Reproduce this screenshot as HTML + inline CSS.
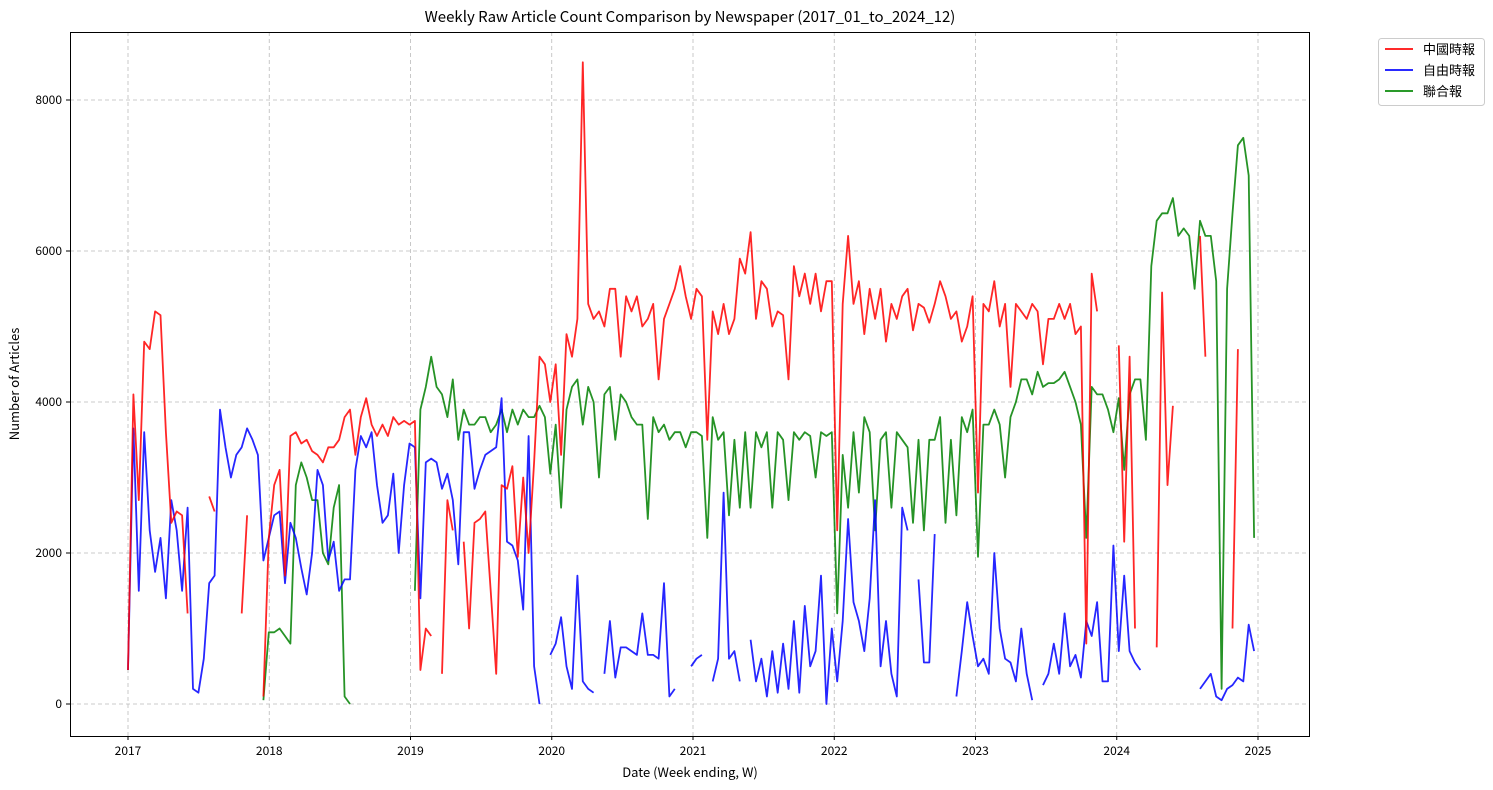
<!DOCTYPE html>
<html><head><meta charset="utf-8">
<style>
body{margin:0;background:#fff;}
svg{display:block;font-family:"Noto Sans CJK TC","Liberation Sans",sans-serif;}
</style></head>
<body>
<svg id="chart" width="1493" height="790" viewBox="0 0 1493 790" xmlns="http://www.w3.org/2000/svg">
<rect x="0" y="0" width="1493" height="790" fill="#fff"/>
<text x="690" y="22" text-anchor="middle" font-size="15" fill="#000">Weekly Raw Article Count Comparison by Newspaper (2017_01_to_2024_12)</text>
<g id="grid"></g>
<g id="series"></g>
<rect x="70.5" y="32.5" width="1239" height="704" fill="none" stroke="#000" stroke-width="1"/>
<g id="axes"></g>
<text x="690" y="777" text-anchor="middle" font-size="13">Date (Week ending, W)</text>
<text transform="translate(19,384) rotate(-90)" text-anchor="middle" font-size="13">Number of Articles</text>
<g>
<rect x="1378.5" y="38.5" width="106" height="67" rx="3" fill="#fff" stroke="#ccc"/>
<g><line x1="1385" y1="49" x2="1413" y2="49" stroke="#ff2a2a" stroke-width="2"/><text x="1423" y="54" font-size="13">中國時報</text></g>
<g><line x1="1385" y1="70" x2="1413" y2="70" stroke="#2a2aff" stroke-width="2"/><text x="1423" y="75" font-size="13">自由時報</text></g>
<g><line x1="1385" y1="91" x2="1413" y2="91" stroke="#2a9a2a" stroke-width="2"/><text x="1423" y="96" font-size="13">聯合報</text></g>
</g>
</svg>
<script>
// Biweekly samples starting 2017-01-01 (index i -> 14*i days later)
const yearTicks = [2017,2018,2019,2020,2021,2022,2023,2024,2025];
const yTicks = [0,2000,4000,6000,8000];
const chinaTimes = [
450,4100,2700,4800,4700,5200,5150,3600,2400,2550,2500,1200,null,null,null,2750,2550,null,null,null,null,1200,2500,null,null,100,
2200,2900,3100,1700,3550,3600,3450,3500,3350,3300,3200,3400,3400,3500,3800,3900,3300,3800,4050,3700,3550,3700,3550,3800,3700,3750,
3700,3750,450,1000,900,null,400,2700,2300,null,2150,1000,2400,2450,2550,1500,400,2900,2850,3150,1950,3000,2000,3200,4600,4500,
4000,4500,3300,4900,4600,5100,8500,5300,5100,5200,5000,5500,5500,4600,5400,5200,5400,5000,5100,5300,4300,5100,5300,5500,5800,5400,
5100,5500,5400,3500,5200,4900,5300,4900,5100,5900,5700,6250,5100,5600,5500,5000,5200,5150,4300,5800,5400,5700,5300,5700,5200,5600,
5600,2300,5300,6200,5300,5600,4900,5500,5100,5500,4800,5300,5100,5400,5500,4950,5300,5250,5050,5300,5600,5400,5100,5200,4800,5000,
5400,2800,5300,5200,5600,5000,5300,4200,5300,5200,5100,5300,5200,4500,5100,5100,5300,5100,5300,4900,5000,800,5700,5200,null,null,
null,4750,2150,4600,1000,null,null,null,750,5450,2900,3950,null,null,null,null,6200,4600,null,null,null,null,1000,4700,null,null,null
];
const libertyTimes = [
450,3650,1500,3600,2300,1750,2200,1400,2700,2300,1500,2600,200,150,600,1600,1700,3900,3400,3000,3300,3400,3650,3500,3300,1900,
2200,2500,2550,1600,2400,2200,1800,1450,2000,3100,2900,1900,2150,1500,1650,1650,3100,3550,3400,3600,2900,2400,2500,3050,2000,2900,
3450,3400,1400,3200,3250,3200,2850,3050,2700,1850,3600,3600,2850,3100,3300,3350,3400,4050,2150,2100,1900,1250,3550,500,0,null,
650,800,1150,500,200,1700,300,200,150,null,400,1100,350,750,750,700,650,1200,650,650,600,1600,100,200,null,null,
500,600,650,null,300,600,2800,600,700,300,null,850,300,600,100,700,150,800,200,1100,150,1300,500,700,1700,0,
1000,300,1100,2450,1350,1100,700,1400,2700,500,1100,400,100,2600,2300,null,1650,550,550,2250,null,650,null,100,700,1350,
900,500,600,400,2000,1000,600,550,300,1000,400,50,null,250,400,800,400,1200,500,650,350,1100,900,1350,300,300,
2100,700,1700,700,550,450,null,null,null,null,null,null,null,null,null,null,200,300,400,100,50,200,250,350,300,1050,700
];
const unitedDaily = [
null,null,null,null,null,null,null,null,null,null,null,null,null,null,null,null,null,null,null,null,null,null,null,null,null,50,
950,950,1000,900,800,2900,3200,3000,2700,2700,2000,1850,2600,2900,100,0,null,null,null,null,null,null,null,null,null,null,
null,1500,3900,4200,4600,4200,4100,3800,4300,3500,3900,3700,3700,3800,3800,3600,3700,3900,3600,3900,3700,3900,3800,3800,3950,3800,
3050,3700,2600,3900,4200,4300,3700,4200,4000,3000,4100,4200,3500,4100,4000,3800,3700,3700,2450,3800,3600,3700,3500,3600,3600,3400,
3600,3600,3550,2200,3800,3500,3600,2500,3500,2600,3600,2600,3600,3400,3600,2600,3600,3500,2700,3600,3500,3600,3550,3000,3600,3550,
3600,1200,3300,2600,3600,2800,3800,3600,2300,3500,3600,2600,3600,3500,3400,2400,3500,2300,3500,3500,3800,2400,3500,2500,3800,3600,
3900,1950,3700,3700,3900,3700,3000,3800,4000,4300,4300,4100,4400,4200,4250,4250,4300,4400,4200,4000,3700,2200,4200,4100,4100,3900,
3600,4050,3100,4100,4300,4300,3500,5800,6400,6500,6500,6700,6200,6300,6200,5500,6400,6200,6200,5600,200,5500,6500,7400,7500,7000,2200
];
const NS="http://www.w3.org/2000/svg";
const X0=70, X1=1309, Y0=32, Y1=736;
function xYear(y){return 128+(y-2017)*141.25;}
function xIdx(i){return xYear(2017+i*14/365.25);}
function yVal(v){return 704-v*604/8000;}
const grid=document.getElementById('grid'), axes=document.getElementById('axes'), ser=document.getElementById('series');
function mk(tag,attrs,parent){const e=document.createElementNS(NS,tag);for(const k in attrs)e.setAttribute(k,attrs[k]);parent.appendChild(e);return e;}
yearTicks.forEach(y=>{
  const x=xYear(y);
  const g=mk('line',{x1:x,x2:x,y1:Y0,y2:Y1,stroke:'#bbb','stroke-dasharray':'4,3','stroke-width':0.8},grid);
  
  
  mk('line',{x1:x,x2:x,y1:Y1,y2:Y1+4,stroke:'#000'},axes);
  const t=mk('text',{x:x,y:Y1+19,'text-anchor':'middle','font-size':12},axes);
  t.textContent=y;
  
  
});
yTicks.forEach(v=>{
  const y=yVal(v);
  const g=mk('line',{x1:X0,x2:X1,y1:y,y2:y,stroke:'#bbb','stroke-dasharray':'4,3','stroke-width':0.8},grid);
  
  
  mk('line',{x1:X0-4,x2:X0,y1:y,y2:y,stroke:'#000'},axes);
  const t=mk('text',{x:X0-8,y:y+4,'text-anchor':'end','font-size':12},axes);
  t.textContent=v;
  
  
});
function drawSeries(arr,color,name){
  let d='',pen=false;
  arr.forEach((v,i)=>{
    if(v===null){pen=false;return;}
    d+=(pen?'L':'M')+xIdx(i).toFixed(1)+','+yVal(v).toFixed(1);
    pen=true;
  });
  const p=mk('path',{d:d,fill:'none',stroke:color,'stroke-width':1.8,'stroke-opacity':0.85,'stroke-linejoin':'round'},ser);
  
  
}
drawSeries(unitedDaily,'#008000','line-united-daily');
drawSeries(libertyTimes,'#0000ff','line-liberty-times');
drawSeries(chinaTimes,'#ff0000','line-china-times');
</script>
</body></html>
